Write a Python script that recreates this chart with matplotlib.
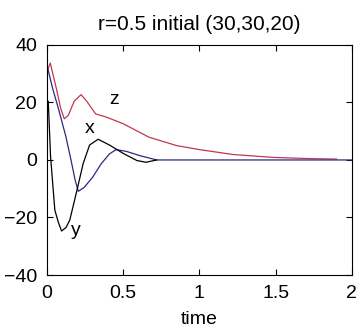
import matplotlib
matplotlib.use("Agg")
import matplotlib.pyplot as plt

# values
z_t = [0, 0.022, 0.064, 0.09, 0.114, 0.14, 0.18, 0.224, 0.26, 0.32, 0.39, 0.5, 0.67, 0.85, 1.0, 1.22, 1.48, 1.7, 1.9]
z_v = [30.6, 33.7, 24.4, 18, 14.3, 15.5, 20.5, 22.7, 20.5, 16, 14.9, 12.6, 7.9, 5, 3.6, 1.9, 0.9, 0.5, 0.3]

x_t = [0, 0.037, 0.08, 0.125, 0.158, 0.186, 0.206, 0.245, 0.3, 0.355, 0.41, 0.454, 0.52, 0.61, 0.72, 2.0]
x_v = [33, 25, 17, 8, 0, -7.2, -10.9, -9.5, -6, -1.4, 2.1, 3.6, 3, 1.5, 0, 0]

y_t = [0, 0.009, 0.024, 0.052, 0.074, 0.096, 0.125, 0.15, 0.195, 0.238, 0.28, 0.336, 0.41, 0.5, 0.59, 0.65, 0.72]
y_v = [21, 20.3, 1.2, -17.4, -21.5, -24.7, -23.5, -20.9, -11, -1.2, 5.2, 7.2, 5.2, 2.3, -0.2, -0.8, 0]

labels = [("z", 0.443, 20.9), ("x", 0.278, 10.8), ("y", 0.19, -24.6)]
xticks = [0, 0.5, 1, 1.5, 2]
xticklabels = ["0", "0.5", "1", "1.5", "2"]
yticks = [-40, -20, 0, 20, 40]

plt.rcParams["font.family"] = ["Liberation Sans", "DejaVu Sans"]

fig = plt.figure(figsize=(3.58, 3.35), dpi=100)
ax = fig.add_axes([0.131, 0.179, 0.852, 0.687])

ax.plot(z_t, z_v, color="#c03850", lw=0.9)
ax.plot(x_t, x_v, color="#2a2a80", lw=0.9)
ax.plot(y_t, y_v, color="black", lw=0.9)

for txt, tx, ty in labels:
    ax.text(tx, ty, txt, fontsize=14, ha="center", va="center")

ax.set_xlim(0, 2)
ax.set_ylim(-40, 40)
ax.set_xticks(xticks)
ax.set_xticklabels(xticklabels)
ax.set_yticks(yticks)
ax.tick_params(direction="in", top=True, right=True, labelsize=14, length=4, width=0.8, pad=7)
for s in ax.spines.values():
    s.set_linewidth(0.8)

ax.set_title("r=0.5 initial (30,30,20)", fontsize=15, pad=11)
ax.set_xlabel("time", fontsize=14, labelpad=7)

fig.savefig("out.png", dpi=100)
